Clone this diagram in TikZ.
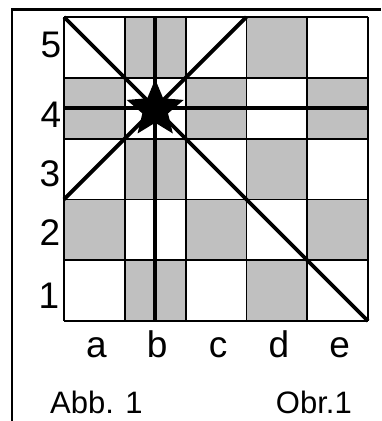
\documentclass[tikz,border=0pt]{standalone}
\usepackage{fontspec}
\setmainfont{Liberation Sans}
\definecolor{cellgray}{RGB}{192,192,192}
\begin{document}
\begin{tikzpicture}[x=1pt,y=-1pt,
  gridline/.style={line width=1.8pt},
  heavyline/.style={line width=3.8pt},
  framestyle/.style={line width=2.2pt},
  graycell/.style={fill=cellgray},
  starfill/.style={fill=black},
  lbl/.style={font=\fontsize{37}{40}\selectfont, inner sep=0pt, anchor=base},
  captext/.style={font=\fontsize{31}{36}\selectfont, inner sep=0pt}]
\useasboundingbox (0,0) rectangle (381,421);
\def\cs{60.8}
% frame
\coordinate (ftl) at (11,9.5);
\coordinate (ftr) at (381,9.5);
\coordinate (fl) at (12,9.5);
\coordinate (fb) at (12,421);
\draw[framestyle] (ftl) -- (ftr);
\draw[framestyle] (fl) -- (fb);
% gray cells
\foreach \i/\j in {1/0,3/0,0/1,2/1,4/1,1/2,3/2,0/3,2/3,4/3,1/4,3/4}
  \fill[graycell] ({64+\i*\cs},{17+\j*\cs}) rectangle ++(\cs,\cs);
% grid
\foreach \k in {0,...,5}{
  \draw[gridline] ({64+\k*\cs},17) -- ({64+\k*\cs},321);
  \draw[gridline] (64,{17+\k*\cs}) -- (368,{17+\k*\cs});
}
% heavy lines
\coordinate (gtl) at (64,17);
\coordinate (gbr) at (368,321);
\coordinate (vtop) at ({64+1.5*\cs},17);
\coordinate (vbot) at ({64+1.5*\cs},321);
\coordinate (hl) at (64,{17+1.5*\cs});
\coordinate (hr) at (368,{17+1.5*\cs});
\coordinate (adl) at (64,{17+3*\cs});
\coordinate (adr) at ({64+3*\cs},17);
\draw[heavyline] (vtop) -- (vbot);
\draw[heavyline] (hl) -- (hr);
\draw[heavyline] (gtl) -- (gbr);
\draw[heavyline] (adl) -- (adr);
% star
\coordinate (star) at ({64+1.5*\cs},{17+1.5*\cs+1});
\fill[starfill, shift={(star)}]
  (-90:30) -- (-54:13.5) -- (-18:30) -- (18:13.5) -- (54:30) --
  (90:13.5) -- (126:30) -- (162:13.5) -- (198:30) -- (234:13.5) -- cycle;
% row labels
\node[lbl] (r5) at (51,57) {5};
\node[lbl] (r4) at (51,127) {4};
\node[lbl] (r3) at (50,186) {3};
\node[lbl] (r2) at (50,245) {2};
\node[lbl] (r1) at (49,308) {1};
% column labels
\foreach \n/\t [count=\c from 0] in {ca/a,cb/b,cc/c,cd/d,ce/e}
  \node[lbl] (\n) at ({64+(\c+0.5)*\cs+2},357) {\t};
% captions
\node[captext, anchor=base west] (abb) at (50,413) {Abb. 1};
\node[captext, anchor=base east] (obr) at (352,413) {Obr.1};
\end{tikzpicture}
\end{document}
